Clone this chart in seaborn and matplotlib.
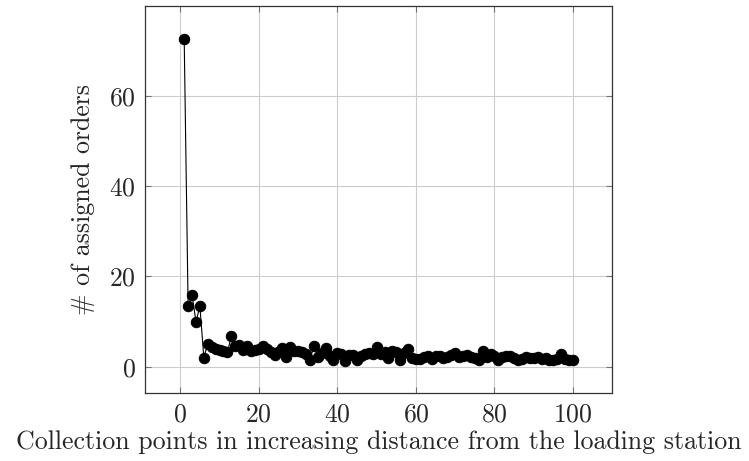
import numpy as np
import pandas as pd
import seaborn as sns
import matplotlib.pyplot as plt

sns.set_style("ticks")
plt.rcParams['font.family'] = ['cmr10', 'DejaVu Serif']
plt.rcParams['axes.formatter.use_mathtext'] = True
plt.rcParams['mathtext.fontset'] = 'cm'

# collection point index (sorted by distance) and number of assigned orders
points = list(range(1, 101))
orders = [72.7, 13.4, 15.9, 10.0, 13.4, 2.0, 5.1, 4.3, 4.0, 3.8,
          3.5, 3.2, 6.8, 4.7, 4.8, 3.7, 4.5, 3.6, 3.8, 3.9,
          4.7, 3.9, 3.2, 2.6, 3.3, 4.2, 2.2, 4.4, 3.6, 3.4,
          3.2, 2.9, 1.4, 4.6, 2.2, 3.0, 4.1, 2.3, 1.6, 3.0,
          2.8, 1.3, 2.6, 2.7, 1.5, 2.3, 2.9, 3.1, 2.8, 4.3,
          2.9, 3.2, 1.9, 3.6, 3.2, 1.6, 3.0, 3.9, 2.0, 1.8,
          1.7, 2.1, 2.3, 1.7, 2.4, 2.3, 2.0, 2.2, 2.6, 3.1,
          2.1, 2.3, 2.6, 2.2, 1.9, 1.5, 3.4, 2.2, 2.8, 2.4,
          1.5, 2.1, 2.5, 2.4, 2.0, 1.4, 1.8, 2.2, 2.0, 1.9,
          2.1, 1.7, 1.9, 1.5, 1.6, 1.8, 2.8, 1.8, 1.6, 1.6]
xticks = [0, 20, 40, 60, 80, 100]
yticks = [0, 20, 40, 60]

df = pd.DataFrame({'point': points, 'orders': orders})

fig = plt.figure(figsize=(7.49, 4.61), dpi=100)
ax = fig.add_axes([0.194, 0.1475, 0.623, 0.840])

sns.lineplot(data=df, x='point', y='orders', ax=ax, color='black', linewidth=0.8,
             marker='o', markersize=7.5, markeredgecolor='black', markerfacecolor='black')

ax.set_xlim(-8.9, 109.9)
ax.set_ylim(-5.8, 79.95)
ax.set_xticks(xticks)
ax.set_yticks(yticks)
ax.grid(True, color='0.8', linewidth=0.8)
ax.set_axisbelow(True)
ax.tick_params(direction='in', length=4, width=0.8, color='0.45',
               top=True, right=True, labelsize=18.5, pad=7)
for s in ax.spines.values():
    s.set_color('0.2')
    s.set_linewidth(0.9)

ax.set_xlabel('Collection points in increasing distance from the loading station', fontsize=18.6, labelpad=3)
ax.set_ylabel('# of assigned orders', fontsize=18.6, labelpad=10)

plt.savefig('out.png', dpi=100)
